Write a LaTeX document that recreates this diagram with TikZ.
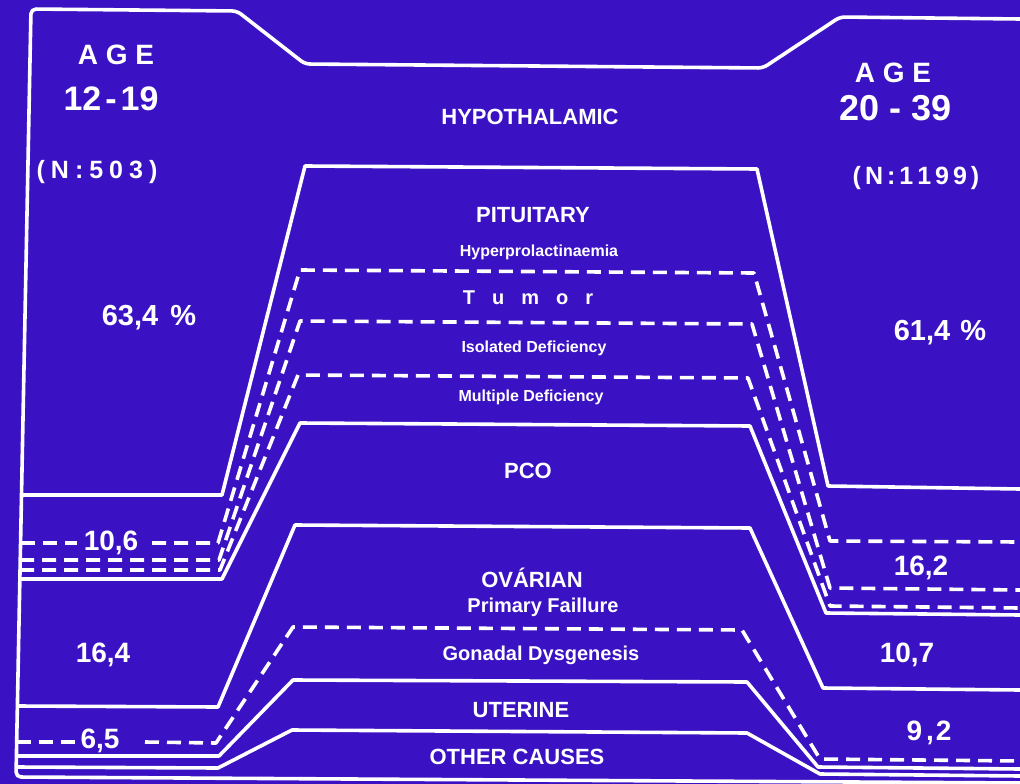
\documentclass[tikz,border=0pt]{standalone}
\usepackage{fontspec}
\setmainfont{Liberation Sans}
\definecolor{bg}{RGB}{58,18,196}
\tikzset{
  band/.style={draw=white, line width=3.6pt, line join=round},
  dsh/.style={band, dash pattern=on 14pt off 8pt},
  lbl/.style={text=white, inner sep=0pt, anchor=center},
  big/.style={lbl, font=\bfseries\fontsize{22}{24}\selectfont},
  mid/.style={lbl, font=\bfseries\fontsize{20}{22}\selectfont},
  small/.style={lbl, font=\bfseries\fontsize{16}{18}\selectfont},
  num/.style={lbl, font=\bfseries\fontsize{28}{30}\selectfont}
}
\begin{document}
\begin{tikzpicture}[x=1pt,y=-1pt]
\fill[bg] (0,0) rectangle (1020,784);
\useasboundingbox (0,0) rectangle (1020,784);

% outer frame and top line
\draw[band, rounded corners=5pt] (1020,19) -- (840,17) -- (763,68) -- (305,64) -- (237,11) -- (31,9) -- (16,777) -- (1020,783);

% hypothalamic / pituitary
\draw[band] (21.5,495) -- (222,495) -- (305,166) -- (757,169) -- (828,486) -- (1020,489);
% pituitary sub-divisions
\draw[dsh] (21,543) -- (77,543);
\draw[dsh] (152,543) -- (218,543) -- (300,270) -- (754,273) -- (830,541) -- (1020,542);
\draw[dsh] (20,560) -- (219,560) -- (300,321) -- (752,324) -- (830,588) -- (1020,590);
\draw[dsh] (20,570) -- (220,570) -- (298,375) -- (748,378) -- (830,606) -- (1020,608);
% pituitary / PCO
\draw[band] (20,579) -- (222,579) -- (300,423) -- (750,426) -- (826,613) -- (1020,615);
% PCO / ovarian
\draw[band] (17.4,706) -- (218,707) -- (295,525) -- (750,528) -- (823,688) -- (1020,690);
% ovarian sub-division
\draw[dsh] (16.7,742) -- (75,742);
\draw[dsh] (145,742) -- (216,743) -- (293,627) -- (742,630) -- (820,759) -- (1020,761);
% ovarian / uterine
\draw[band] (16.5,756) -- (219,756) -- (293,680) -- (747,682) -- (818,767) -- (1020,769);
% uterine / other
\draw[band] (16.2,767) -- (218,768) -- (292,730) -- (747,733) -- (820,774) -- (1020,776);

% left column texts
\node[lbl, font=\bfseries\fontsize{28}{30}\selectfont] (age1) at (116,55) {A G E};
\node[lbl, font=\bfseries\fontsize{34}{36}\selectfont] (yr1) at (111,99) {12\kern4pt-\kern4pt19};
\node[lbl, font=\bfseries\fontsize{25}{27}\selectfont] (n1) at (97,172) {(\kern6ptN\kern6pt:\kern6pt5\kern6pt0\kern6pt3\kern6pt)};
\node[lbl, font=\bfseries\fontsize{29}{31}\selectfont] (p1) at (149,318) {63,4 \kern4pt\%};
\node[num] (p2) at (111,543) {10,6};
\node[num] (p3) at (103,655) {16,4};
\node[num] (p4) at (100,741) {6,5};

% right column texts
\node[lbl, font=\bfseries\fontsize{28}{30}\selectfont] (age2) at (893,73) {A G E};
\node[lbl, font=\bfseries\fontsize{36}{38}\selectfont] (yr2) at (896,108) {20 - 39};
\node[lbl, font=\bfseries\fontsize{25}{27}\selectfont] (n2) at (916,178) {(\kern4ptN\kern4pt:\kern4pt1\kern4pt1\kern4pt9\kern4pt9\kern4pt)};
\node[lbl, font=\bfseries\fontsize{29}{31}\selectfont] (q1) at (940,333) {61,4 \kern2pt\%};
\node[num] (q2) at (921,568) {16,2};
\node[num] (q3) at (907,655) {10,7};
\node[num] (q4) at (929,733) {9\kern4pt,\kern2pt2};

% middle labels
\node[big] (hyp) at (530,117) {HYPOTHALAMIC};
\node[big] (pit) at (533,215) {PITUITARY};
\node[small] (hpl) at (539,252) {Hyperprolactinaemia};
\node[mid] (tum) at (528,298) {T\kern17ptu\kern17ptm\kern17pto\kern17ptr};
\node[small] (iso) at (534,348) {Isolated Deficiency};
\node[small] (mul) at (531,397) {Multiple Deficiency};
\node[big] (pco) at (528,471) {PCO};
\node[big] (ova) at (532,578) {OVÁRIAN};
\node[mid] (prf) at (543,607) {Primary Faillure};
\node[mid] (gon) at (541,655) {Gonadal Dysgenesis};
\node[big] (ute) at (521,710) {UTERINE};
\node[big] (oth) at (517,757) {OTHER CAUSES};
\end{tikzpicture}
\end{document}
